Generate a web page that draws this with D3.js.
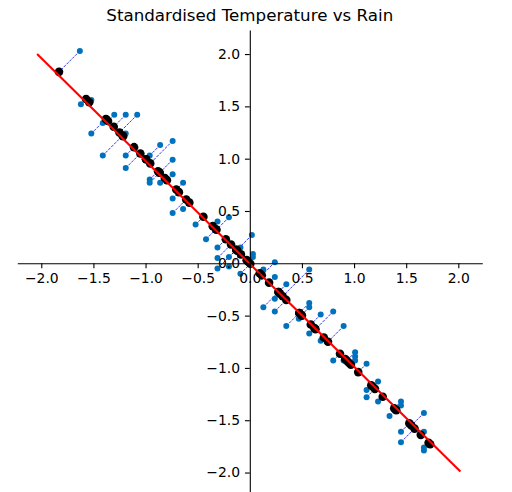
<!DOCTYPE html>
<html>
<head>
<meta charset="utf-8">
<script src="https://cdn.jsdelivr.net/npm/d3@7"></script>
<style>
    body { margin: 0; background: #fff; }
    svg text { font-family: "DejaVu Sans", sans-serif; }
</style>
</head>
<body>
<svg id="chart" width="512" height="492"></svg>
<script>
// standardised temperature (x) and rain (y)
const tempValues = [
    -1.63, -1.62, -1.52, -1.52, -1.41, -1.41, -1.30, -1.19, -1.08, -1.19,
    -1.19, -1.19, -0.96, -0.86, -0.74, -0.96, -0.96, -0.86, -0.74, -0.74,
    -0.64, -0.74, -0.64, -0.74, -0.52, -0.42, -0.31, -0.20, -0.31, -0.31,
    -0.20, -0.31, -0.20, -0.09, -0.09, 0.02, 0.03, 0.03,
    0.13, 0.24, 0.24, 0.35, 0.24, 0.13, 0.24, 0.57, 0.57, 0.57,
    0.47, 0.35, 0.57, 0.68, 0.80, 0.68, 0.90, 0.80, 0.90, 1.01,
    1.01, 1.01, 1.12, 1.23, 1.12, 1.12, 1.23, 1.45, 1.45, 1.34,
    1.67, 1.45, 1.45, 1.67, 1.67, 1.67
];
const rainValues = [
    2.03, 1.52, 1.56, 1.24, 1.34, 1.03, 1.42, 1.42, 1.42, 1.24,
    1.03, 0.91, 1.03, 1.13, 1.17, 0.80, 0.77, 0.77, 0.99, 0.85,
    0.77, 0.62, 0.52, 0.48, 0.37, 0.23, 0.40, 0.44, 0.15, 0.05,
    0.06, -0.05, -0.03, 0.15, -0.10, 0.27, 0.09, 0.06,
    -0.06, 0.01, -0.13, -0.20, -0.34, -0.42, -0.46, -0.06, -0.38, -0.42,
    -0.53, -0.60, -0.67, -0.49, -0.46, -0.74, -0.60, -0.93, -0.93, -0.85,
    -0.89, -0.93, -0.96, -1.13, -1.21, -1.28, -1.32, -1.32, -1.36, -1.46,
    -1.43, -1.61, -1.71, -1.61, -1.76, -1.79
];
// first principal component line
const lineX = [-2.04, 2.02];
const lineY = [2.0, -1.99];
const pcAxis = [1, -1];

const xTicks = [-2.0, -1.5, -1.0, -0.5, 0.0, 0.5, 1.0, 1.5, 2.0];
const yTicks = [-2.0, -1.5, -1.0, -0.5, 0.0, 0.5, 1.0, 1.5, 2.0];
const titleText = 'Standardised Temperature vs Rain';

const svg = d3.select('#chart');

const x = d3.scaleLinear().domain([-2.23, 2.23]).range([17.3, 482.3]);
const y = d3.scaleLinear().domain([-2.23, 2.23]).range([496.6, 30]);

// project each point onto the principal axis
const norm = Math.hypot(pcAxis[0], pcAxis[1]);
const u = [pcAxis[0] / norm, pcAxis[1] / norm];
const points = tempValues.map((t, i) => {
    const r = rainValues[i];
    const s = t * u[0] + r * u[1];
    return { x: t, y: r, px: s * u[0], py: s * u[1] };
});

const plot = svg.append('g');

// dashed links from the data to its projection
plot.selectAll('line.link')
    .data(points)
    .join('line')
    .attr('class', 'link')
    .attr('x1', d => x(d.x))
    .attr('y1', d => y(d.y))
    .attr('x2', d => x(d.px))
    .attr('y2', d => y(d.py))
    .attr('stroke', '#0000ff')
    .attr('stroke-width', 0.8)
    .attr('stroke-dasharray', '2.8,1.2');

plot.selectAll('circle.data')
    .data(points)
    .join('circle')
    .attr('class', 'data')
    .attr('cx', d => x(d.x))
    .attr('cy', d => y(d.y))
    .attr('r', 3)
    .attr('fill', '#0072bd');

plot.selectAll('circle.proj')
    .data(points)
    .join('circle')
    .attr('class', 'proj')
    .attr('cx', d => x(d.px))
    .attr('cy', d => y(d.py))
    .attr('r', 4.3)
    .attr('fill', '#000');

plot.append('line')
    .attr('x1', x(lineX[0]))
    .attr('y1', y(lineY[0]))
    .attr('x2', x(lineX[1]))
    .attr('y2', y(lineY[1]))
    .attr('stroke', '#ff0000')
    .attr('stroke-width', 2.1);

// spines through the origin
const fmt = d3.format('.1f');
const xAxis = svg.append('g')
    .attr('transform', `translate(0,${y(0)})`)
    .call(d3.axisBottom(x).tickValues(xTicks).tickFormat(fmt)
        .tickSizeInner(4.86).tickSizeOuter(0).tickPadding(4.86));

const yAxis = svg.append('g')
    .attr('transform', `translate(${x(0)},0)`)
    .call(d3.axisLeft(y).tickValues(yTicks).tickFormat(fmt)
        .tickSizeInner(4.86).tickSizeOuter(0).tickPadding(4.86));

[xAxis, yAxis].forEach(g => {
    g.select('.domain').attr('stroke', '#000').attr('stroke-width', 1.1);
    g.selectAll('.tick line').attr('stroke', '#000').attr('stroke-width', 1.1);
    g.selectAll('.tick text')
        .attr('fill', '#000')
        .attr('font-size', 13.9)
        .attr('font-family', '"DejaVu Sans", sans-serif');
});

svg.append('text')
    .attr('x', (x.range()[0] + x.range()[1]) / 2)
    .attr('y', 21)
    .attr('text-anchor', 'middle')
    .attr('font-size', 16.7)
    .attr('fill', '#000')
    .text(titleText);
</script>
</body>
</html>
